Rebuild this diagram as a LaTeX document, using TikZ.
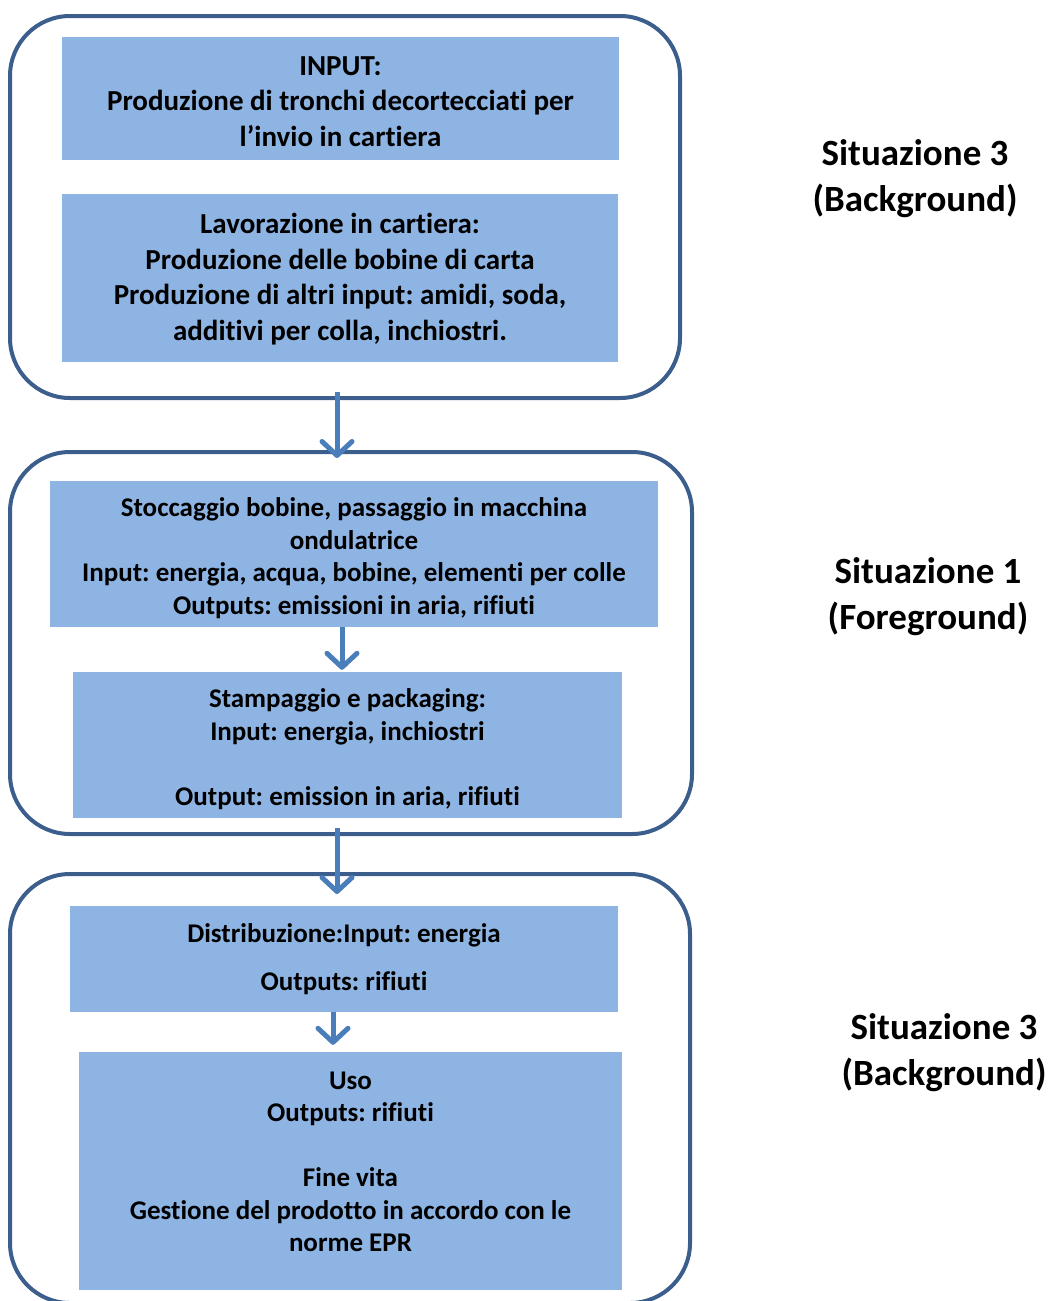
\documentclass[tikz,border=0pt]{standalone}
\usepackage{fontspec}
\setmainfont[Ligatures=NoCommon]{Carlito}
\usetikzlibrary{arrows.meta,calc}
\definecolor{frame}{HTML}{3B5E8C}
\definecolor{boxfill}{HTML}{8EB4E3}
\definecolor{arrowc}{HTML}{4A7EBB}
\frenchspacing
\begin{document}
\begin{tikzpicture}[x=1pt,y=-1pt,
  group/.style={draw=frame, line width=4pt, rounded corners=60pt, inner sep=0pt},
  stage/.style={fill=boxfill, draw=none, inner sep=0pt, align=center},
  bigtext/.style={font=\bfseries\fontsize{29}{35.5}\selectfont},
  smalltext/.style={font=\bfseries\fontsize{27}{32.5}\selectfont},
  flow/.style={draw=arrowc, line width=5pt, -{Straight Barb[length=14pt, width=30pt, line cap=round, line join=round]}},
  side/.style={align=center, font=\bfseries\fontsize{37}{46}\selectfont}]
\useasboundingbox (0,0) rectangle (1049,1301);

% outer groups
\node[group, minimum width=670pt, minimum height=382pt] (g1) at (345,207) {};
\node[group, minimum width=682pt, minimum height=382pt] (g2) at (351,643) {};
\node[group, minimum width=680pt, minimum height=429pt] (g3) at (350,1088.5) {};

% stages
\node[stage, bigtext, minimum width=557pt, minimum height=123pt] (a) at (340.5,98.5)
  {\rule{0pt}{25pt}INPUT:\\Produzione di tronchi decortecciati per\\l’invio in cartiera};
\node[stage, bigtext, minimum width=556pt, minimum height=168pt] (b) at (340,278)
  {\rule{0pt}{23pt}Lavorazione in cartiera:\\Produzione delle bobine di carta\\Produzione di altri input: amidi, soda,\\additivi per colla, inchiostri.};
\node[stage, smalltext, minimum width=608pt, minimum height=146pt] (c) at (354,554)
  {\rule{0pt}{27pt}Stoccaggio bobine, passaggio in macchina\\ondulatrice\\Input: energia, acqua, bobine, elementi per colle\\Outputs: emissioni in aria, rifiuti};
\node[stage, smalltext, minimum width=549pt, minimum height=146pt] (d) at (347.5,745)
  {\rule{0pt}{27pt}Stampaggio e packaging:\\Input: energia, inchiostri\\[32.5pt]Output: emission in aria, rifiuti};
\node[stage, smalltext, minimum width=548pt, minimum height=106pt] (e) at (344,959)
  {Distribuzione:Input: energia\\[16pt]Outputs: rifiuti};
\node[stage, smalltext, minimum width=543pt, minimum height=238pt] (f) at (350.5,1171) {};
\node[smalltext, align=center, inner sep=0pt] (ftext) at (350.5,1162)
  {Uso\\Outputs: rifiuti\\[32.5pt]Fine vita\\Gestione del prodotto in accordo con le\\norme EPR};

% side labels
\node[side] (s1) at (915,179) {Situazione 3\\(Background)};
\node[side] (s2) at (928,597) {Situazione 1\\(Foreground)};
\node[side] (s3) at (944,1053) {Situazione 3\\(Background)};

% arrows
\draw[flow] ($(g1.south -| 337,0)+(0,-8)$) -- ($(g2.north -| 337,0)+(0,8)$);
\draw[flow] (c.south -| 342,0) -- ($(d.north -| 342,0)+(0,-2)$);
\draw[flow] ($(g2.south -| 337,0)+(0,-8)$) -- ($(g3.north -| 337,0)+(0,22)$);
\draw[flow] (e.south -| 333,0) -- ($(f.north -| 333,0)+(0,-7)$);
\end{tikzpicture}
\end{document}
